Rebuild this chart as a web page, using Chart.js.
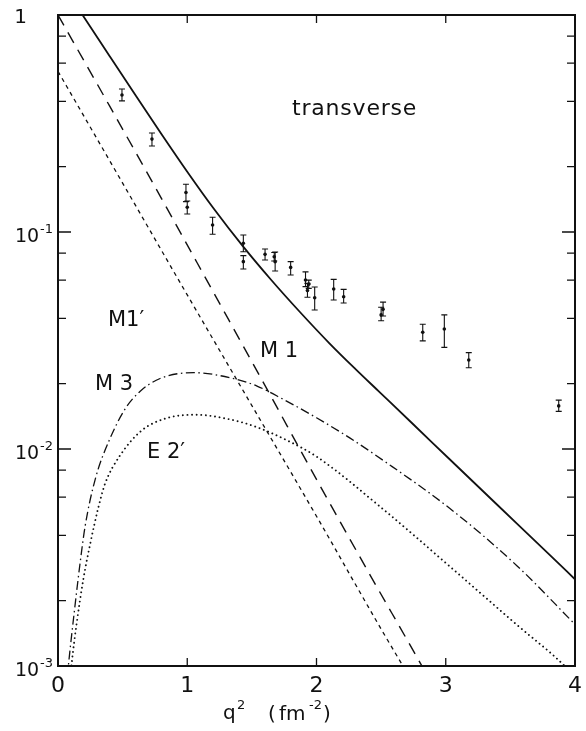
<!DOCTYPE html>
<html>
<head>
<meta charset="utf-8">
<script src="https://cdn.jsdelivr.net/npm/chart.js@4.4.1/dist/chart.umd.min.js"></script>
<style>
  html, body { margin: 0; padding: 0; background: #fff; }
  #wrap { width: 586px; height: 731px; position: relative; }
</style>
</head>
<body>
<div id="wrap"><canvas id="c" width="586" height="731"></canvas></div>
<script>
// ---- Data ----
// measured points with error bars
const dataQ  = [0.495, 0.727, 0.99, 1.00, 1.196, 1.434, 1.434, 1.602, 1.673, 1.68, 1.80, 1.915, 1.93, 1.94, 1.986, 2.133, 2.21, 2.50, 2.515, 2.822, 2.989, 3.178, 3.874];
const dataY  = [0.428, 0.268, 0.152, 0.130, 0.1077, 0.0887, 0.0730, 0.0789, 0.0769, 0.0730, 0.0687, 0.0601, 0.0537, 0.0575, 0.0498, 0.0546, 0.0503, 0.0415, 0.0440, 0.0345, 0.0357, 0.0257, 0.0158];
const dataLo = [0.402, 0.249, 0.138, 0.121, 0.0976, 0.0811, 0.0675, 0.0743, 0.0735, 0.0661, 0.0634, 0.0560, 0.0500, 0.0550, 0.0437, 0.0486, 0.0471, 0.0390, 0.0410, 0.0315, 0.0294, 0.0237, 0.0149];
const dataHi = [0.456, 0.286, 0.166, 0.139, 0.117, 0.0969, 0.0778, 0.0835, 0.0805, 0.0809, 0.0730, 0.0655, 0.0580, 0.0600, 0.0558, 0.0605, 0.0544, 0.0450, 0.0475, 0.0376, 0.0415, 0.0278, 0.0168];

// total (solid)
const totalQ = [0.17, 0.19, 0.4, 0.6, 0.8, 1.0, 1.2, 1.43, 1.65, 1.87, 2.1, 2.3, 2.49, 2.75, 3.03, 3.4, 3.8, 4.0];
const totalY = [1.042, 1.0, 0.6457, 0.4266, 0.2831, 0.1897, 0.1294, 0.0861, 0.0601, 0.0429, 0.0307, 0.0234, 0.01824, 0.01297, 0.00897, 0.00552, 0.00327, 0.00251];
// M1 (long dash)
const m1Q = [0.0, 0.4, 0.8, 1.2, 1.6, 2.0, 2.4, 2.82, 2.9];
const m1Y = [1.0, 0.380, 0.143, 0.0531, 0.0197, 0.00724, 0.00272, 0.000989, 0.00081];
// M1' (short dash)
const m1pQ = [0.0, 0.5, 1.0, 1.5, 2.0, 2.5, 2.75];
const m1pY = [0.55, 0.168, 0.0513, 0.01585, 0.0049, 0.00148, 0.00083];
// M3 (dash-dot)
const m3Q = [0.072, 0.08, 0.13, 0.17, 0.21, 0.29, 0.4, 0.52, 0.634, 0.79, 1.05, 1.36, 1.54, 1.74, 2.0, 2.26, 2.52, 3.03, 3.55, 4.0];
const m3Y = [0.00089, 0.001, 0.001862, 0.002951, 0.004416, 0.007328, 0.01109, 0.01531, 0.01841, 0.02113, 0.02249, 0.02109, 0.0195, 0.01698, 0.01393, 0.01122, 0.00883, 0.00533, 0.0029, 0.001556];
// E2' (dotted)
const e2Q = [0.097, 0.105, 0.145, 0.196, 0.248, 0.312, 0.364, 0.48, 0.647, 0.828, 1.06, 1.318, 1.524, 1.782, 2.0, 2.517, 3.033, 3.549, 3.92, 3.96];
const e2Y = [0.00091, 0.00102, 0.00158, 0.00251, 0.00363, 0.00537, 0.00692, 0.00933, 0.01216, 0.0138, 0.01439, 0.01374, 0.0127, 0.01089, 0.00923, 0.00527, 0.00287, 0.00155, 0.001, 0.00094];

// axes
const xTicks = [0, 1, 2, 3, 4];
const yDecades = [1, 0.1, 0.01, 0.001];
const yDecadeLabels = [["1", ""], ["10", "-1"], ["10", "-2"], ["10", "-3"]];
const yMinorMult = [2, 4, 6, 8];

const pts = (qs, ys) => qs.map((q, i) => ({ x: q, y: ys[i] }));
const FONT = '"DejaVu Sans", sans-serif';

const curve = (label, qs, ys, dash, width, cap) => ({
  label, data: pts(qs, ys), showLine: true, pointRadius: 0, borderColor: '#111',
  borderWidth: width, borderDash: dash, borderCapStyle: cap || 'butt', fill: false,
  cubicInterpolationMode: 'monotone', clip: 0
});

const frameAndText = {
  id: 'frameAndText',
  afterDatasetsDraw(chart) {
    const { ctx, scales: { x, y } } = chart;
    // error bars
    ctx.save();
    ctx.strokeStyle = '#111';
    ctx.lineWidth = 1.1;
    dataQ.forEach((q, i) => {
      const px = x.getPixelForValue(q);
      const y1 = y.getPixelForValue(dataLo[i]);
      const y2 = y.getPixelForValue(dataHi[i]);
      ctx.beginPath();
      ctx.moveTo(px, y1); ctx.lineTo(px, y2);
      ctx.moveTo(px - 3, y1); ctx.lineTo(px + 3, y1);
      ctx.moveTo(px - 3, y2); ctx.lineTo(px + 3, y2);
      ctx.stroke();
    });
    ctx.restore();
  },
  afterDraw(chart) {
    const { ctx, chartArea: a, scales: { x, y } } = chart;
    ctx.save();
    ctx.strokeStyle = '#111';
    ctx.fillStyle = '#111';
    ctx.lineWidth = 2;
    ctx.strokeRect(a.left, a.top, a.right - a.left, a.bottom - a.top);
    // y ticks
    ctx.lineWidth = 1.3;
    ctx.beginPath();
    yDecades.forEach((v, i) => {
      const py = y.getPixelForValue(v);
      ctx.moveTo(a.left, py); ctx.lineTo(a.left + 13, py);
      ctx.moveTo(a.right, py); ctx.lineTo(a.right - 13, py);
      if (i < yDecades.length - 1) {
        yMinorMult.forEach(m => {
          const pm = y.getPixelForValue(v * m / 10);
          ctx.moveTo(a.left, pm); ctx.lineTo(a.left + 8, pm);
          ctx.moveTo(a.right, pm); ctx.lineTo(a.right - 8, pm);
        });
      }
    });
    // x ticks
    xTicks.forEach(v => {
      const px = x.getPixelForValue(v);
      ctx.moveTo(px, a.bottom); ctx.lineTo(px, a.bottom - 8);
      ctx.moveTo(px, a.top); ctx.lineTo(px, a.top + 8);
    });
    ctx.stroke();

    // y tick labels
    ctx.textBaseline = 'alphabetic';
    yDecades.forEach((v, i) => {
      const py = y.getPixelForValue(v);
      const [base, exp] = yDecadeLabels[i];
      if (!exp) {
        ctx.font = '20px ' + FONT;
        ctx.textAlign = 'right';
        ctx.fillText(base, 27, py + 8);
      } else {
        ctx.font = '19px ' + FONT;
        ctx.textAlign = 'left';
        ctx.fillText(base, 15, py + 9.5);
        ctx.font = '13px ' + FONT;
        ctx.fillText(exp, 40, py + 1);
      }
    });
    // x tick labels
    ctx.font = '22px ' + FONT;
    ctx.textAlign = 'center';
    xTicks.forEach(v => {
      ctx.fillText(String(v), x.getPixelForValue(v), 692);
    });
    // x title: q² (fm⁻²)
    ctx.textAlign = 'left';
    ctx.font = '20px ' + FONT;
    ctx.fillText('q', 223, 719);
    ctx.font = '13px ' + FONT;
    ctx.fillText('2', 237, 709);
    ctx.font = '20px ' + FONT;
    ctx.fillText('(', 268, 720);
    ctx.fillText('fm', 279, 720);
    ctx.font = '13px ' + FONT;
    ctx.fillText('-2', 309, 709);
    ctx.font = '20px ' + FONT;
    ctx.fillText(')', 323, 720);

    // curve labels
    ctx.font = '22px ' + FONT;
    if ('letterSpacing' in ctx) ctx.letterSpacing = '0.8px';
    ctx.fillText('transverse', 292, 115);
    if ('letterSpacing' in ctx) ctx.letterSpacing = '0px';
    ctx.font = '21px ' + FONT;
    ctx.fillText('M1\u2032', 108, 326);
    ctx.fillText('M 1', 260, 357);
    ctx.fillText('M 3', 95, 390);
    ctx.fillText('E 2\u2032', 147, 458);
    ctx.restore();
  }
};

new Chart(document.getElementById('c'), {
  type: 'scatter',
  data: {
    datasets: [
      curve('total', totalQ, totalY, [], 1.8),
      curve('M1', m1Q, m1Y, [12, 8], 1.4),
      curve("M1'", m1pQ, m1pY, [4, 4], 1.3),
      curve('M3', m3Q, m3Y, [9, 3.5, 1.5, 3.5], 1.3),
      curve("E2'", e2Q, e2Y, [0.01, 4.6], 1.9, 'round'),
      { label: 'data', data: pts(dataQ, dataY), showLine: false, pointRadius: 1.8,
        pointBackgroundColor: '#111', pointBorderWidth: 0, borderColor: '#111' }
    ]
  },
  options: {
    responsive: false,
    animation: false,
    devicePixelRatio: 1,
    layout: { padding: { left: 58, right: 11, top: 15, bottom: 65 } },
    plugins: { legend: { display: false }, tooltip: { enabled: false } },
    scales: {
      x: { type: 'linear', min: 0, max: 4, display: false },
      y: { type: 'logarithmic', min: 0.001, max: 1, display: false }
    }
  },
  plugins: [frameAndText]
});
</script>
</body>
</html>
